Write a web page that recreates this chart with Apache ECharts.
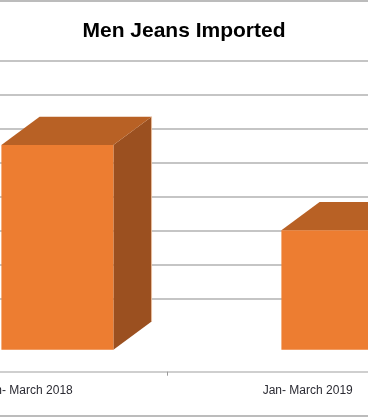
<!DOCTYPE html>
<html>
<head>
<meta charset="utf-8">
<script src="https://cdn.jsdelivr.net/npm/echarts@6/dist/echarts.min.js"></script>
<style>
  html, body { margin: 0; padding: 0; background: #ffffff; }
  #chart { width: 368px; height: 419px; }
</style>
</head>
<body>
<div id="chart"></div>
<script>
// ---- data ----
const title = 'Men Jeans Imported';
const categories = ['Jan- March 2018', 'Jan- March 2019'];
const importedValues = [60, 35];
const valueMin = 0;
const valueMax = 70;
const valueInterval = 10;

// ---- 3D look (styling only) ----
const FLOOR_DEPTH = 72.5;   // vertical px between back wall zero and floor front edge
const FRONT_GAP = 22;       // vertical px between floor front edge and bar front face
const BAR_DEPTH = 28.3;     // vertical px of bar depth
const SLOPE = 1.35;         // horizontal px per vertical px of depth
const BAR_RATIO = 0.4;      // bar width / band width

const chart = echarts.init(document.getElementById('chart'), null, { renderer: 'canvas' });

function renderItem(params, api) {
  const i = api.value(0);
  const v = api.value(1);
  const base = api.coord([i, 0]);
  const topPt = api.coord([i, v]);
  const band = api.size([1, 0])[0];
  const w = band * BAR_RATIO;
  const h = base[1] - topPt[1];
  const fy = base[1] + FLOOR_DEPTH - FRONT_GAP;
  const fx = base[0] + FRONT_GAP * SLOPE - w / 2;
  const dx = BAR_DEPTH * SLOPE, dy = BAR_DEPTH;
  return {
    type: 'group',
    children: [
      {
        type: 'polygon',
        shape: { points: [[fx + w, fy - h], [fx + w, fy], [fx + w + dx, fy - dy], [fx + w + dx, fy - h - dy]] },
        style: { fill: '#9B5020' }
      },
      {
        type: 'line',
        shape: { x1: fx + w + dx, y1: fy - dy, x2: fx + w + dx, y2: fy - h - dy },
        style: { stroke: '#F4C9A8', lineWidth: 0.8 }
      },
      {
        type: 'polygon',
        shape: { points: [[fx, fy - h], [fx + w, fy - h], [fx + w + dx, fy - h - dy], [fx + dx, fy - h - dy]] },
        style: { fill: '#B86125' }
      },
      {
        type: 'rect',
        shape: { x: fx, y: fy - h, width: w, height: h },
        style: { fill: '#ED7D31' }
      }
    ]
  };
}

const option = {
  backgroundColor: '#ffffff',
  animation: false,
  title: {
    text: title,
    left: 'center',
    top: 16,
    textStyle: { fontFamily: 'Liberation Sans', fontWeight: 'bold', fontSize: 21, color: '#000000' }
  },
  grid: {
    left: -112.3, right: -79.7, top: 60.3, bottom: 119.8,
    containLabel: false, outerBoundsMode: 'none'
  },
  xAxis: {
    type: 'category',
    data: categories,
    offset: 72.5,
    axisLine: { show: true, onZero: false, lineStyle: { color: '#bfbfbf', width: 1.5 } },
    axisTick: { show: true, length: 4, lineStyle: { color: '#9a9a9a', width: 1 } },
    axisLabel: { color: '#2b2b33', fontFamily: 'Liberation Sans', fontSize: 12, margin: 13, hideOverlap: false },
    splitLine: { show: false }
  },
  yAxis: {
    type: 'value',
    min: valueMin,
    max: valueMax,
    interval: valueInterval,
    axisLine: { show: false },
    axisTick: { show: false },
    axisLabel: { show: false },
    splitLine: { show: true, lineStyle: { color: '#b2b2b2', width: 1.5 } }
  },
  graphic: [
    { type: 'line', shape: { x1: 0, y1: 1, x2: 368, y2: 1 }, style: { stroke: '#a6a6a6', lineWidth: 1.5 } },
    { type: 'line', shape: { x1: 0, y1: 416, x2: 368, y2: 416 }, style: { stroke: '#a6a6a6', lineWidth: 1.5 } }
  ],
  series: [{
    type: 'custom',
    renderItem: renderItem,
    clip: false,
    encode: { x: 0, y: 1 },
    data: categories.map((c, i) => [i, importedValues[i]])
  }]
};
chart.setOption(option);
</script>
</body>
</html>
